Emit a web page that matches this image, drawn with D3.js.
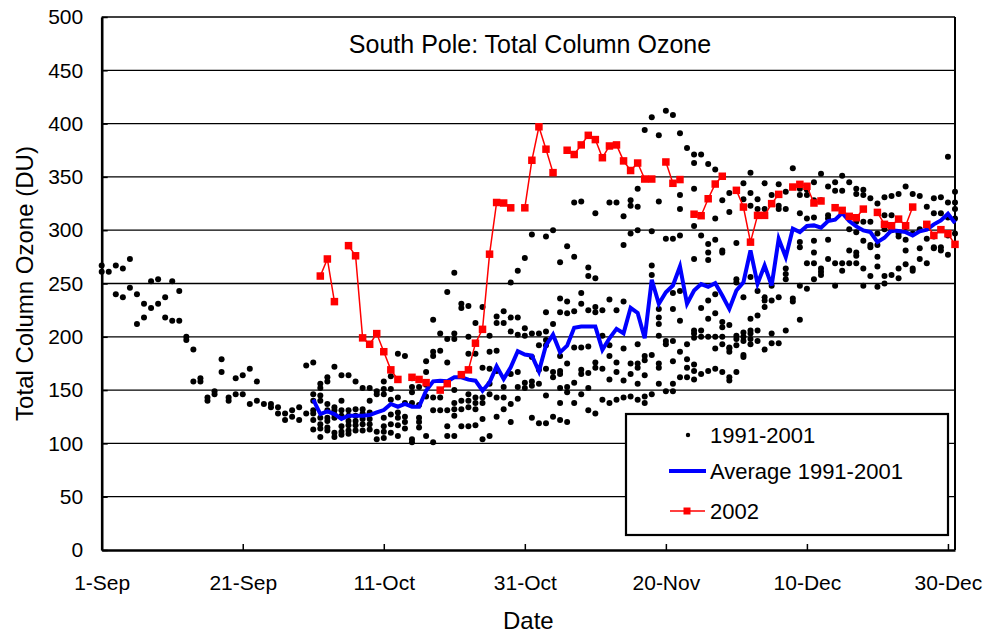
<!DOCTYPE html>
<html>
<head>
<meta charset="utf-8">
<script src="https://cdn.jsdelivr.net/npm/d3@7"></script>
<style>
  body { margin: 0; background: #fff; }
  #chart svg { display: block; font-family: "Liberation Sans", Arial, sans-serif; }
</style>
</head>
<body>
<div id="chart"></div>
<script>
// South Pole total column ozone, Sep-Dec.
// x is "days since 1-Sep", y is Dobson units.

var xTickDays = [0, 20, 40, 60, 80, 100, 120];
var xTickLabels = ['1-Sep', '21-Sep', '11-Oct', '31-Oct', '20-Nov', '10-Dec', '30-Dec'];
var yTicks = [0, 50, 100, 150, 200, 250, 300, 350, 400, 450, 500];

// 1991-2001 daily soundings: [day, value, value, ...]
var obsRows = [
    [0, 267, 261], [1, 261], [2, 267, 240], [3, 264, 237], [4, 273, 246],
    [5, 240, 212], [6, 231, 218], [7, 252, 227], [8, 254, 231], [9, 237, 218],
    [10, 252, 215], [11, 243, 215], [12, 200, 197], [13, 188, 158], [14, 161, 158],
    [15, 143, 140], [16, 149, 146], [17, 179, 167], [18, 143, 140], [19, 161, 146],
    [20, 164, 146], [21, 170, 137], [22, 158, 140], [23, 137], [24, 137, 134],
    [25, 134, 128], [26, 128, 122], [27, 131, 125], [28, 134, 122], [29, 173, 128],
    [30, 176, 146, 140, 131, 128, 122, 113],
    [31, 156, 152, 145, 140, 124, 118, 114, 106],
    [32, 162, 158, 137, 131, 124, 121, 115, 112],
    [33, 172, 134, 131, 127, 124, 110, 106],
    [34, 164, 140, 131, 126, 116, 111, 108],
    [35, 164, 131, 126, 121, 117, 112, 109],
    [36, 158, 132, 126, 121, 117, 112],
    [37, 152, 132, 128, 123, 118, 112],
    [38, 152, 140, 129, 123, 118, 113],
    [39, 149, 146, 111, 104],
    [40, 158, 151, 146, 124, 116, 111, 105],
    [41, 163, 151, 141, 127, 118, 110],
    [42, 184, 143, 129, 124, 117, 107],
    [43, 182, 138, 125, 120, 114],
    [44, 161, 153, 148, 138, 104, 101],
    [45, 153, 136, 124, 120, 115],
    [46, 177, 167, 155, 144, 107],
    [47, 216, 186, 182, 143, 131, 101],
    [48, 203, 187, 143, 131],
    [49, 242, 198, 176, 131, 116, 107],
    [50, 260, 203, 198, 150, 138, 132, 126, 107],
    [51, 231, 227, 140, 132, 116],
    [52, 229, 200, 184, 146, 140, 134, 116],
    [53, 213, 184, 143, 138, 132, 117],
    [54, 228, 171, 143, 138, 123, 104],
    [55, 201, 186, 170, 156, 146, 107],
    [56, 219, 213, 187, 168, 143, 125],
    [57, 224, 213, 153, 143, 132],
    [58, 251, 218, 205, 165, 137, 120],
    [59, 262, 218, 202, 167, 153, 142],
    [60, 274, 208, 201, 157, 152],
    [61, 296, 203, 181, 158, 154, 124],
    [62, 203, 192, 169, 156, 119],
    [63, 294, 223, 205, 197, 192, 170, 145, 119],
    [64, 300, 212, 167, 162, 125],
    [65, 270, 236, 223, 182, 168, 165, 152, 138, 122],
    [66, 285, 233, 222, 175, 153, 148, 120],
    [67, 326, 275, 224, 190, 157, 138],
    [68, 327, 241, 231, 190, 169, 165, 146],
    [69, 265, 257, 225, 191, 166, 152, 131],
    [70, 316, 255, 228, 223, 176, 171, 128],
    [71, 225, 201, 170, 141],
    [72, 326, 235, 192, 182, 160, 138],
    [73, 326, 225, 176, 167, 141],
    [74, 313, 286, 233, 189, 159, 143],
    [75, 328, 323, 297, 175, 165, 144],
    [76, 339, 322, 300, 193, 175, 171, 156, 141],
    [77, 394, 182, 178, 164, 144, 138],
    [78, 406, 299, 267, 258, 183, 146],
    [79, 389, 327, 226, 218, 212, 201, 175, 171, 156],
    [80, 412, 292, 196, 193, 149],
    [81, 408, 292, 241, 226, 196, 177, 156, 149],
    [82, 391, 333, 320, 295, 243, 215, 186, 162],
    [83, 377, 193, 179, 171, 162],
    [84, 371, 363, 339, 304, 273, 206, 203, 199, 174, 168, 160],
    [85, 371, 295, 227, 206, 200, 165],
    [86, 362, 287, 279, 272, 234, 217, 200, 168],
    [87, 357, 311, 291, 240, 222, 200, 189, 170],
    [88, 328, 281, 279, 214, 209, 200, 193, 167],
    [89, 335, 317, 211, 190, 189, 186, 162, 159],
    [90, 288, 254, 251, 201, 198, 192, 167],
    [91, 344, 329, 237, 204, 200, 196, 183, 181],
    [92, 354, 335, 323, 256, 217, 206, 203, 198, 193],
    [93, 329, 320, 243, 220, 206, 196],
    [94, 344, 320, 237, 234, 228, 188],
    [95, 333, 248, 234, 203, 194],
    [96, 343, 323, 320, 237, 194],
    [97, 336, 320, 264, 259, 254, 206],
    [98, 358, 236, 233],
    [99, 339, 333, 316, 289, 284, 248, 216],
    [100, 338, 333, 311, 269, 245],
    [101, 345, 328, 312, 290, 279, 269, 254],
    [102, 353, 328, 264, 261, 258],
    [103, 341, 314, 311, 291, 273],
    [104, 345, 337, 269, 248],
    [105, 351, 337, 269, 262],
    [106, 345, 301, 281, 269],
    [107, 339, 334, 308, 298, 279, 276, 269],
    [108, 338, 333, 308, 290, 264, 248],
    [109, 330, 308, 286, 284, 257],
    [110, 325, 297, 286, 275, 266, 247],
    [111, 331, 314, 301, 257, 250],
    [112, 332, 314, 300, 258],
    [113, 334, 297, 294, 264, 255],
    [114, 341, 303, 291, 281, 268],
    [115, 334, 297, 264, 262],
    [116, 332, 301, 283, 273],
    [117, 322, 292, 269],
    [118, 330, 316, 294, 284, 283],
    [119, 331, 316, 284, 281],
    [120, 369, 326, 312, 295, 277],
    [121, 336, 326, 320, 311, 297, 286]
];

// Average 1991-2001, one value per day starting at avgStart
var avgStart = 30;
var avgValues = [
    141, 127.5, 130, 127.5, 123, 126, 126, 126, 126.6, 129,
    131.3, 137, 134.4, 137, 134.4, 134.4, 149.4, 158.2, 158.8, 158.2,
    162, 162, 159.8, 158.8, 149.4, 157.2, 172.3, 160.4, 171.3, 186.4,
    183.3, 182.3, 167.6, 192, 202, 185.4, 191.7, 208.4, 209.6, 209.6,
    209.6, 187.7, 198.6, 207.4, 203.3, 227.2, 222.4, 198.6, 253.5, 230.9,
    241.8, 248.1, 266, 231, 243.4, 249.5, 247, 250.3, 238.7, 226.2,
    243.4, 251.2, 281, 249.7, 266.9, 248.1, 292, 274.7, 301.4, 298.2,
    303.9, 304.5, 302.3, 308.6, 309.9, 316.1, 308.6, 303.6, 299.8, 298.2,
    288.8, 292.9, 299.8, 299.2, 298.2, 295.1, 298.9, 300.5, 305.5, 309.2,
    315.5, 306.7
];

// 2002, one value per day starting at y2002Start (null = no data)
var y2002Start = 31;
var y2002Values = [
    257, 273, 233, null, 285.5, 276, 199, 193, 203, 186,
    169, 160, null, 162, 160, 157, null, 150, 156, null,
    164.5, 169, 194, 207, 277.5, 326, 325.5, 321, null, 321,
    365.6, 397, 376, 354, null, 375, 371, 380, 389, 385,
    368, 379, 380, 365, 356, 363, 348, 348, null, 364,
    344, 347.5, null, 315, 313.6, 329.5, 343.3, 350.6, null, 337.4,
    321.7, 288.8, 313.9, 313.9, 324.9, 333.6, null, 340.5, 343, 341.2,
    325.5, 327.4, null, 321.1, 318.6, 313, 311.7, 319.8, null, 316.7,
    305.5, 304.2, 310.4, 304.2, 321.7, null, 305.5, 295.1, 300.5, 296.7,
    286.7
];

var legendLabels = ['1991-2001', 'Average 1991-2001', '2002'];

(function () {
    var W = 988, H = 633;
    var plot = { left: 101.7, right: 955, top: 17, bottom: 550 };

    var svg = d3.select('#chart').append('svg')
        .attr('width', W).attr('height', H)
        .attr('viewBox', '0 0 ' + W + ' ' + H);

    var x = d3.scaleLinear().domain([0, 121]).range([plot.left, plot.right]);
    var y = d3.scaleLinear().domain([0, 500]).range([plot.bottom, plot.top]);

    // Horizontal gridlines
    svg.append('g').selectAll('line')
        .data(yTicks.filter(function (d) { return d > 0; }))
        .enter().append('line')
        .attr('x1', plot.left).attr('x2', plot.right)
        .attr('y1', function (d) { return y(d); })
        .attr('y2', function (d) { return y(d); })
        .attr('stroke', '#000').attr('stroke-width', 1.3);

    // Right border of the plot area
    svg.append('line')
        .attr('x1', plot.right).attr('x2', plot.right)
        .attr('y1', plot.top).attr('y2', plot.bottom)
        .attr('stroke', '#000').attr('stroke-width', 2);

    // Flatten the scatter rows
    var obs = [];
    obsRows.forEach(function (row) {
        for (var i = 1; i < row.length; i++) obs.push({ day: row[0], v: row[i] });
    });

    svg.append('g').selectAll('circle')
        .data(obs)
        .enter().append('circle')
        .attr('cx', function (d) { return x(d.day); })
        .attr('cy', function (d) { return y(d.v); })
        .attr('r', 3)
        .attr('fill', '#000');

    // Average line
    var lineAvg = d3.line()
        .x(function (d, i) { return x(avgStart + i); })
        .y(function (d) { return y(d); });
    svg.append('path')
        .datum(avgValues)
        .attr('fill', 'none')
        .attr('stroke', '#0000ff')
        .attr('stroke-width', 4)
        .attr('stroke-linejoin', 'miter')
        .attr('d', lineAvg);

    // 2002 line with gaps, then squares
    var line2002 = d3.line()
        .defined(function (d) { return d !== null; })
        .x(function (d, i) { return x(y2002Start + i); })
        .y(function (d) { return y(d); });
    svg.append('path')
        .datum(y2002Values)
        .attr('fill', 'none')
        .attr('stroke', '#ff0000')
        .attr('stroke-width', 1.5)
        .attr('d', line2002);

    var sq = 7.5;
    svg.append('g').selectAll('rect')
        .data(y2002Values.map(function (v, i) { return { day: y2002Start + i, v: v }; })
            .filter(function (d) { return d.v !== null; }))
        .enter().append('rect')
        .attr('x', function (d) { return x(d.day) - sq / 2; })
        .attr('y', function (d) { return y(d.v) - sq / 2; })
        .attr('width', sq).attr('height', sq)
        .attr('fill', '#ff0000');

    // Axes
    var yAxis = svg.append('g')
        .attr('transform', 'translate(' + plot.left + ',0)')
        .call(d3.axisLeft(y).tickValues(yTicks).tickSizeInner(-6).tickSizeOuter(0).tickPadding(18.5));
    var xAxis = svg.append('g')
        .attr('transform', 'translate(0,' + plot.bottom + ')')
        .call(d3.axisBottom(x).tickValues(xTickDays)
            .tickFormat(function (d, i) { return xTickLabels[i]; })
            .tickSizeInner(-6).tickSizeOuter(0).tickPadding(25));

    [xAxis, yAxis].forEach(function (g) {
        g.select('.domain').attr('stroke', '#000').attr('stroke-width', 2.6);
        g.selectAll('.tick line').attr('stroke', '#000').attr('stroke-width', 1.5);
        g.selectAll('.tick text')
            .attr('fill', '#000')
            .style('font-size', '21px')
            .style('font-family', '"Liberation Sans", Arial, sans-serif');
    });

    // Titles
    svg.append('text')
        .attr('x', 530).attr('y', 53)
        .attr('text-anchor', 'middle')
        .style('font-size', '25px')
        .text('South Pole: Total Column Ozone');

    svg.append('text')
        .attr('transform', 'translate(33,' + ((plot.top + plot.bottom) / 2) + ') rotate(-90)')
        .attr('text-anchor', 'middle')
        .style('font-size', '24px')
        .text('Total Column Ozone (DU)');

    svg.append('text')
        .attr('x', (plot.left + plot.right) / 2).attr('y', 629)
        .attr('text-anchor', 'middle')
        .style('font-size', '24px')
        .text('Date');

    // Legend
    var lg = svg.append('g');
    lg.append('rect')
        .attr('x', 626).attr('y', 414)
        .attr('width', 322).attr('height', 121)
        .attr('fill', '#fff')
        .attr('stroke', '#000').attr('stroke-width', 2.2);

    var rowY = [435, 471, 511];
    lg.append('circle').attr('cx', 688).attr('cy', rowY[0]).attr('r', 2.2).attr('fill', '#000');
    lg.append('line')
        .attr('x1', 669).attr('x2', 706).attr('y1', rowY[1]).attr('y2', rowY[1])
        .attr('stroke', '#0000ff').attr('stroke-width', 4);
    lg.append('line')
        .attr('x1', 670).attr('x2', 705).attr('y1', rowY[2]).attr('y2', rowY[2])
        .attr('stroke', '#ff0000').attr('stroke-width', 1.5);
    lg.append('rect')
        .attr('x', 687 - 3.5).attr('y', rowY[2] - 3.5)
        .attr('width', 7).attr('height', 7).attr('fill', '#ff0000');

    lg.selectAll('text.lab')
        .data(legendLabels)
        .enter().append('text')
        .attr('class', 'lab')
        .attr('x', 710)
        .attr('y', function (d, i) { return rowY[i] + 8; })
        .style('font-size', '22px')
        .text(function (d) { return d; });
})();
</script>
</body>
</html>
